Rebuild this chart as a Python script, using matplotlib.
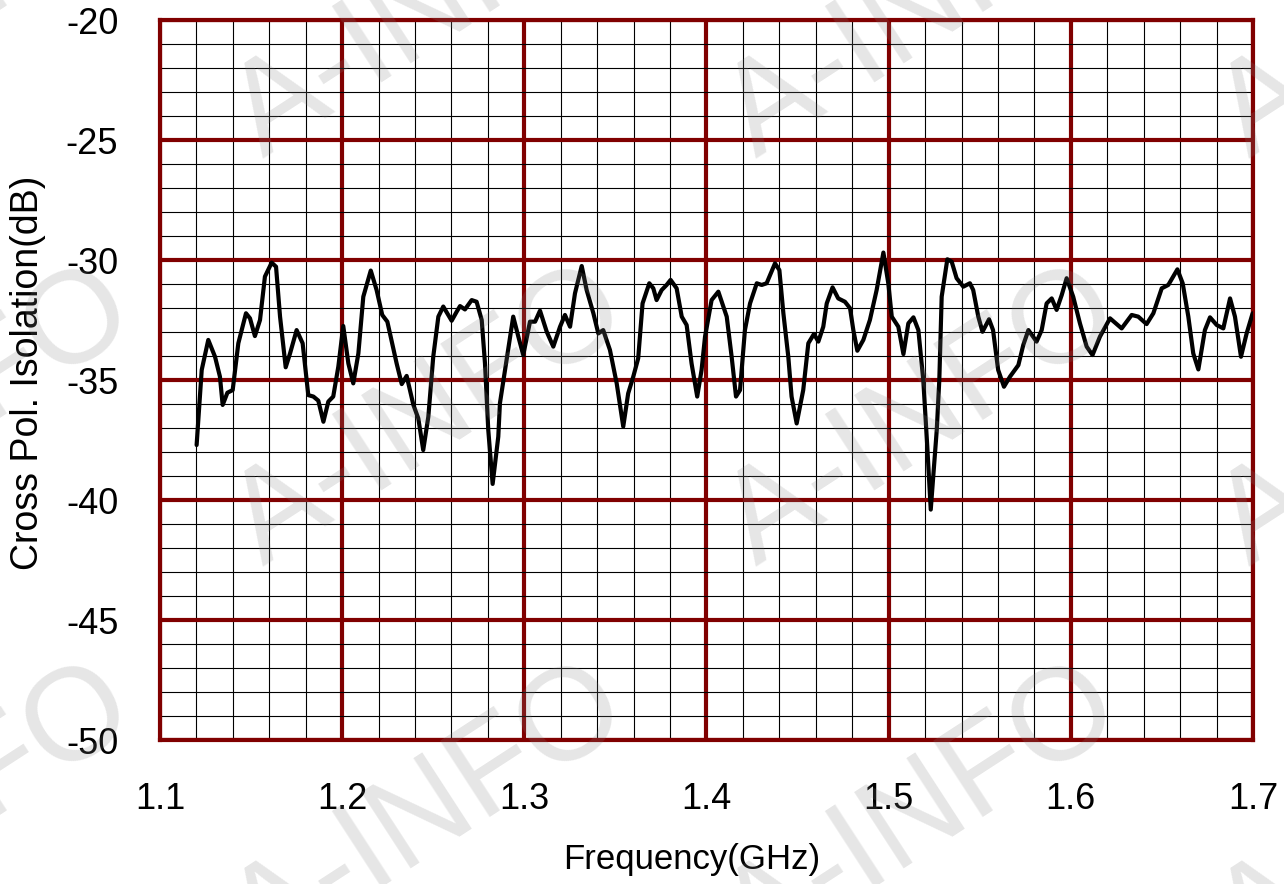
"""Cross-pol isolation vs frequency, graph-paper style plot."""

import matplotlib

matplotlib.use("Agg")

import matplotlib.pyplot as plt
from matplotlib.ticker import MultipleLocator

plt.rcParams["font.family"] = ["Liberation Sans", "DejaVu Sans"]

# --- data (GHz, dB) ---
freq_ghz = [
    1.1201, 1.1229, 1.1265, 1.1302, 1.1329, 1.1344, 1.1370, 1.1399, 1.1430, 1.1472,
    1.1494, 1.1521, 1.1549, 1.1576, 1.1613, 1.1637, 1.1659, 1.1690, 1.1714, 1.1750,
    1.1783, 1.1814, 1.1842, 1.1869, 1.1897, 1.1924, 1.1951, 1.1979, 1.2006, 1.2034,
    1.2061, 1.2089, 1.2116, 1.2157, 1.2189, 1.2220, 1.2248, 1.2299, 1.2327, 1.2354,
    1.2391, 1.2418, 1.2445, 1.2473, 1.2500, 1.2528, 1.2555, 1.2601, 1.2629, 1.2647,
    1.2674, 1.2711, 1.2738, 1.2766, 1.2784, 1.2802, 1.2826, 1.2857, 1.2866, 1.2894,
    1.2939, 1.2967, 1.2994, 1.3031, 1.3059, 1.3086, 1.3123, 1.3159, 1.3196, 1.3223,
    1.3251, 1.3278, 1.3315, 1.3342, 1.3379, 1.3406, 1.3433, 1.3470, 1.3507, 1.3543,
    1.3570, 1.3598, 1.3625, 1.3649, 1.3686, 1.3708, 1.3726, 1.3754, 1.3781, 1.3803,
    1.3836, 1.3864, 1.3891, 1.3918, 1.3949, 1.3973, 1.3992, 1.4028, 1.4065, 1.4111,
    1.4138, 1.4162, 1.4184, 1.4211, 1.4239, 1.4276, 1.4303, 1.4330, 1.4376, 1.4400,
    1.4422, 1.4449, 1.4467, 1.4495, 1.4531, 1.4559, 1.4590, 1.4614, 1.4641, 1.4660,
    1.4692, 1.4723, 1.4760, 1.4788, 1.4806, 1.4828, 1.4861, 1.4897, 1.4934, 1.4971,
    1.4998, 1.5017, 1.5053, 1.5081, 1.5108, 1.5136, 1.5163, 1.5190, 1.5212, 1.5231,
    1.5264, 1.5278, 1.5291, 1.5322, 1.5346, 1.5373, 1.5410, 1.5446, 1.5464, 1.5492,
    1.5515, 1.5551, 1.5573, 1.5601, 1.5633, 1.5666, 1.5712, 1.5739, 1.5767, 1.5812,
    1.5840, 1.5867, 1.5895, 1.5922, 1.5950, 1.5977, 1.6013, 1.6050, 1.6087, 1.6119,
    1.6160, 1.6215, 1.6279, 1.6334, 1.6370, 1.6416, 1.6453, 1.6499, 1.6535, 1.6585,
    1.6614, 1.6645, 1.6672, 1.6700, 1.6736, 1.6764, 1.6801, 1.6837, 1.6874, 1.6901,
    1.6934, 1.6965, 1.6998,
]
xpol_db = [
    -37.71, -34.58, -33.33, -34.03, -34.86, -36.04, -35.53, -35.42, -33.47, -32.22,
    -32.43, -33.17, -32.50, -30.69, -30.11, -30.28, -32.36, -34.47, -33.89, -32.92,
    -33.47, -35.63, -35.69, -35.86, -36.74, -35.90, -35.69, -34.44, -32.75, -34.31,
    -35.14, -33.89, -31.53, -30.44, -31.25, -32.29, -32.57, -34.31, -35.17, -34.83,
    -36.04, -36.60, -37.92, -36.53, -34.03, -32.36, -31.94, -32.53, -32.15, -31.92,
    -32.06, -31.67, -31.74, -32.50, -34.31, -37.08, -39.33, -37.36, -35.97, -34.58,
    -32.36, -33.19, -33.96, -32.57, -32.57, -32.11, -32.99, -33.61, -32.78, -32.29,
    -32.78, -31.39, -30.25, -31.25, -32.22, -33.06, -32.92, -33.75, -35.14, -36.94,
    -35.56, -34.86, -34.10, -31.81, -30.97, -31.18, -31.67, -31.25, -31.04, -30.83,
    -31.18, -32.36, -32.71, -34.31, -35.69, -34.58, -33.19, -31.67, -31.32, -32.36,
    -34.03, -35.69, -35.42, -32.92, -31.81, -30.97, -31.04, -30.97, -30.14, -30.42,
    -32.22, -34.03, -35.69, -36.81, -35.42, -33.47, -33.08, -33.40, -32.78, -31.81,
    -31.14, -31.60, -31.74, -32.01, -32.92, -33.78, -33.33, -32.50, -31.25, -29.69,
    -30.97, -32.36, -32.78, -33.92, -32.64, -32.39, -32.92, -35.00, -37.78, -40.40,
    -37.08, -35.00, -31.53, -29.97, -30.07, -30.76, -31.11, -30.97, -31.25, -32.36,
    -32.99, -32.47, -32.92, -34.58, -35.28, -34.86, -34.38, -33.54, -32.92, -33.40,
    -32.92, -31.81, -31.60, -32.08, -31.46, -30.76, -31.53, -32.64, -33.61, -33.96,
    -33.19, -32.43, -32.85, -32.29, -32.36, -32.67, -32.22, -31.18, -31.04, -30.39,
    -30.97, -32.36, -33.89, -34.56, -32.92, -32.39, -32.71, -32.85, -31.60, -32.36,
    -34.03, -33.06, -32.22,
]

x_ticks = [1.1, 1.2, 1.3, 1.4, 1.5, 1.6, 1.7]
x_tick_labels = ["1.1", "1.2", "1.3", "1.4", "1.5", "1.6", "1.7"]
y_ticks = [-50, -45, -40, -35, -30, -25, -20]
y_tick_labels = ["-50", "-45", "-40", "-35", "-30", "-25", "-20"]

DARK_RED = "#800000"
W, H = 1284, 884

fig = plt.figure(figsize=(W / 100, H / 100), dpi=100)
ax = fig.add_axes([160 / W, 1 - 740 / H, (1253 - 160) / W, 720 / H])

ax.plot(freq_ghz, xpol_db, color="black", linewidth=3.0,
        solid_joinstyle="round", solid_capstyle="round", zorder=5)

ax.set_xlim(1.1, 1.7)
ax.set_ylim(-50, -20)
ax.set_xticks(x_ticks)
ax.set_xticklabels(x_tick_labels)
ax.set_yticks(y_ticks)
ax.set_yticklabels(y_tick_labels)
ax.xaxis.set_minor_locator(MultipleLocator(0.02))
ax.yaxis.set_minor_locator(MultipleLocator(1))

# 方格纸：细黑次网格 + 粗暗红主网格
ax.grid(True, which="minor", color="black", linewidth=0.8, zorder=1)
ax.grid(True, which="major", color=DARK_RED, linewidth=3.0, zorder=2)
ax.set_axisbelow(True)

ax.tick_params(which="both", length=0)
ax.tick_params(axis="both", which="major", labelsize=26, pad=30)

for spine in ax.spines.values():
    spine.set_color(DARK_RED)
    spine.set_linewidth(3.0)

ax.set_xlabel("Frequency(GHz)", fontsize=25)
ax.set_ylabel("Cross Pol. Isolation(dB)", fontsize=27)
ax.xaxis.set_label_coords(0.4865, -0.143)
ax.yaxis.set_label_coords(-0.104, 0.51)

# 水印 A-INFO（平铺，浅灰半透明）
for cy in (10, 418, 815):
    for cx in (-63, 430, 923, 1416):
        fig.text(cx / W, 1 - cy / H, "A-INFO", fontsize=94, rotation=33,
                 ha="center", va="center", color=(0.5, 0.5, 0.5), alpha=0.2,
                 zorder=10)

fig.savefig("out.png", dpi=100)
